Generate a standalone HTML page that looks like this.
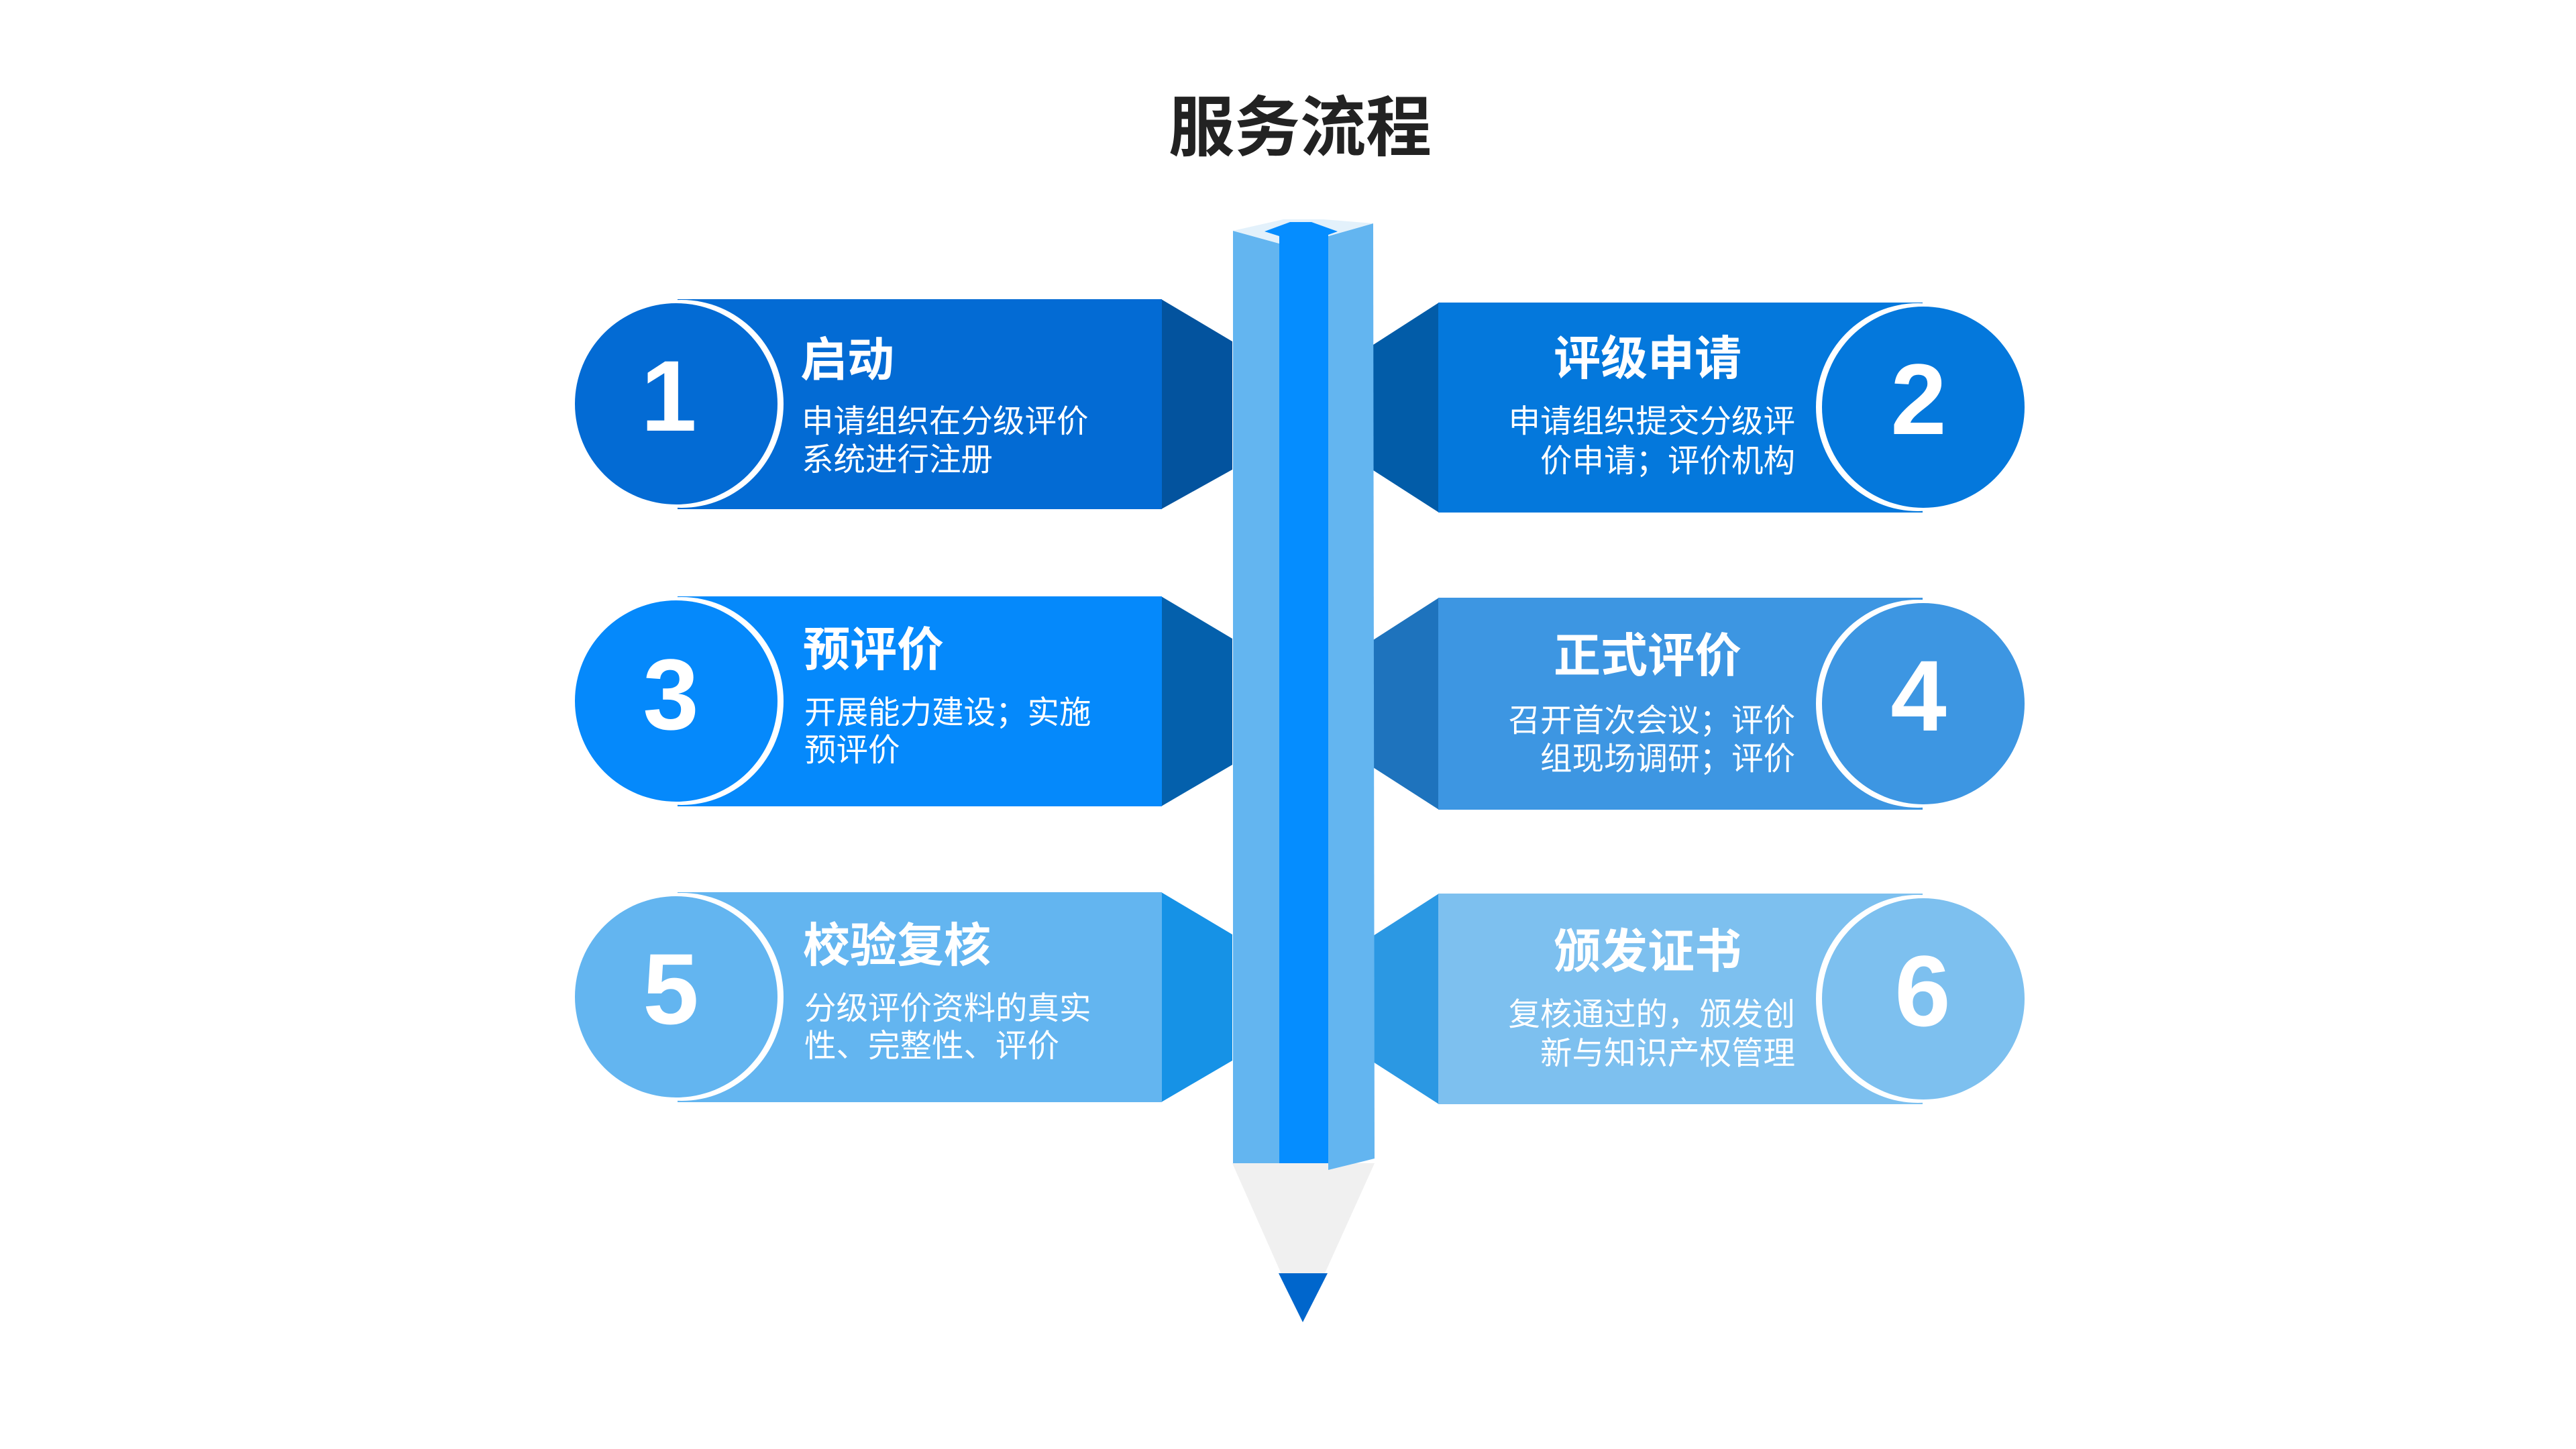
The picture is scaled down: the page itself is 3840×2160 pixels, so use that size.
<!DOCTYPE html>
<html><head><meta charset="utf-8"><style>
html,body{margin:0;padding:0;background:#fff;}
svg{display:block}
text{font-family:"Liberation Sans","Noto Sans CJK SC",sans-serif;fill:#fff}
.t{font-family:"Noto Sans CJK SC",sans-serif;font-weight:700;font-size:70px}
.d{font-family:"Noto Sans CJK SC",sans-serif;font-size:47.5px}
.n{font-family:"Liberation Sans",sans-serif;font-weight:700;font-size:150px}
</style></head><body>
<svg width="3840" height="2160" viewBox="0 0 3840 2160" xmlns="http://www.w3.org/2000/svg">
<text x="1938" y="182" text-anchor="middle" dominant-baseline="central" style="font-family:'Noto Sans CJK SC',sans-serif;font-weight:700;font-size:98px;fill:#222">服务流程</text>

<!-- Card 1 -->
<polygon points="1731,446 1837,509 1837,700 1731,759" fill="#03539e"/>
<rect x="1010" y="446" width="722" height="313" fill="#036bd4"/>
<ellipse cx="1016" cy="602" rx="152" ry="155" fill="#fff"/>
<ellipse cx="1008" cy="602" rx="151" ry="150" fill="#036bd4"/>
<text class="n" x="997" y="590" text-anchor="middle" dominant-baseline="central">1</text>
<text class="t" x="1193" y="531" dominant-baseline="central">启动</text>
<text class="d" x="1195" y="624" dominant-baseline="central">申请组织在分级评价</text>
<text class="d" x="1195" y="681" dominant-baseline="central">系统进行注册</text>

<!-- Card 3 -->
<polygon points="1731,889 1837,952 1837,1140 1731,1202" fill="#0460ac"/>
<rect x="1010" y="889" width="722" height="313" fill="#0589fb"/>
<ellipse cx="1016" cy="1045" rx="152" ry="155" fill="#fff"/>
<ellipse cx="1008" cy="1045" rx="151" ry="150" fill="#0589fb"/>
<text class="n" x="1000" y="1035" text-anchor="middle" dominant-baseline="central">3</text>
<text class="t" x="1197" y="963" dominant-baseline="central">预评价</text>
<text class="d" x="1199" y="1058" dominant-baseline="central">开展能力建设；实施</text>
<text class="d" x="1199" y="1114" dominant-baseline="central">预评价</text>

<!-- Card 5 -->
<polygon points="1731,1330 1837,1393 1837,1581 1731,1643" fill="#1692e6"/>
<rect x="1010" y="1330" width="722" height="313" fill="#63b5f0"/>
<ellipse cx="1016" cy="1486" rx="152" ry="155" fill="#fff"/>
<ellipse cx="1008" cy="1486" rx="151" ry="150" fill="#63b5f0"/>
<text class="n" x="1000" y="1474" text-anchor="middle" dominant-baseline="central">5</text>
<text class="t" x="1197" y="1404" dominant-baseline="central">校验复核</text>
<text class="d" x="1199" y="1499" dominant-baseline="central">分级评价资料的真实</text>
<text class="d" x="1199" y="1555" dominant-baseline="central">性、完整性、评价</text>

<!-- Card 2 -->
<polygon points="2145,451 2047,514 2047,701 2145,764" fill="#025ca8"/>
<rect x="2144" y="451" width="722" height="313" fill="#0478dc"/>
<ellipse cx="2859" cy="607" rx="152" ry="155" fill="#fff"/>
<ellipse cx="2867" cy="607" rx="151" ry="150" fill="#0478dc"/>
<text class="n" x="2860" y="595" text-anchor="middle" dominant-baseline="central">2</text>
<text class="t" x="2596" y="529" text-anchor="end" dominant-baseline="central">评级申请</text>
<text class="d" x="2676" y="624" text-anchor="end" dominant-baseline="central">申请组织提交分级评</text>
<text class="d" x="2676" y="683" text-anchor="end" dominant-baseline="central">价申请；评价机构</text>

<!-- Card 4 -->
<polygon points="2145,891 2047,954 2047,1144 2145,1207" fill="#1e73bd"/>
<rect x="2144" y="891" width="722" height="316" fill="#3d96e2"/>
<ellipse cx="2859" cy="1049" rx="152" ry="155" fill="#fff"/>
<ellipse cx="2867" cy="1049" rx="151" ry="150" fill="#3d96e2"/>
<text class="n" x="2860" y="1037" text-anchor="middle" dominant-baseline="central">4</text>
<text class="t" x="2596" y="972" text-anchor="end" dominant-baseline="central">正式评价</text>
<text class="d" x="2676" y="1070" text-anchor="end" dominant-baseline="central">召开首次会议；评价</text>
<text class="d" x="2676" y="1127" text-anchor="end" dominant-baseline="central">组现场调研；评价</text>

<!-- Card 6 -->
<polygon points="2145,1332 2047,1395 2047,1583 2145,1646" fill="#2b98e3"/>
<rect x="2144" y="1332" width="722" height="314" fill="#7dc0ef"/>
<ellipse cx="2859" cy="1489" rx="152" ry="155" fill="#fff"/>
<ellipse cx="2867" cy="1489" rx="151" ry="150" fill="#7dc0ef"/>
<text class="n" x="2866" y="1477" text-anchor="middle" dominant-baseline="central">6</text>
<text class="t" x="2596" y="1413" text-anchor="end" dominant-baseline="central">颁发证书</text>
<text class="d" x="2676" y="1508" text-anchor="end" dominant-baseline="central">复核通过的，颁发创</text>
<text class="d" x="2676" y="1566" text-anchor="end" dominant-baseline="central">新与知识产权管理</text>

<!-- Pencil -->
<polygon points="1837,1734 2049,1734 1942,1971" fill="#f0f0f0"/>
<polygon points="1906,1898 1979,1898 1942,1971" fill="#0066cc"/>
<polygon points="1838,344 1907,363 1907,1734 1838,1734" fill="#63b5f0"/>
<polygon points="1980,352 2047,333 2049,1727 1980,1744" fill="#63b5f0"/>
<polygon points="1838,344 1913,327 1973,327 2047,333 1980,352 1907,363" fill="#e3f1fb"/>
<polygon points="1907,363 1907,352 1885,345 1923,331 1955,331 1994,345 1980,350 1980,1734 1907,1734" fill="#058dff"/>
</svg>
</body></html>
